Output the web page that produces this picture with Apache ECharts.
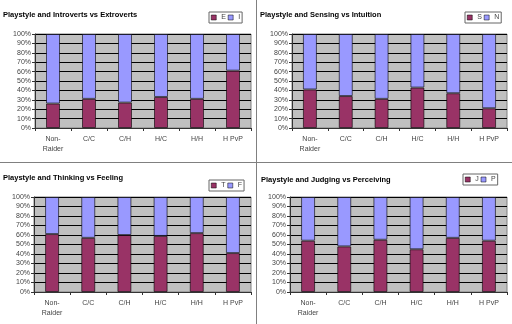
<!DOCTYPE html>
<html>
<head>
<meta charset="utf-8">
<script src="https://cdn.jsdelivr.net/npm/echarts@6/dist/echarts.min.js"></script>
<style>
html,body{margin:0;padding:0;background:#fff;}
#c{width:512px;height:324px;}
</style>
</head>
<body>
<div id="c"></div>
<script>
var categories = ['Non-\nRaider', 'C/C', 'C/H', 'H/C', 'H/H', 'H PvP'];
var yTicks = [0, 10, 20, 30, 40, 50, 60, 70, 80, 90, 100];

var titles = [
  'Playstyle and Introverts vs Extroverts',
  'Playstyle and Sensing vs Intuition',
  'Playstyle and Thinking vs Feeling',
  'Playstyle and Judging vs Perceiving'
];

var eValues = [26, 31, 27, 33, 31, 61];
var iValues = [74, 69, 73, 67, 69, 39];
var sValues = [41, 34, 31, 43, 37, 21];
var nValues = [59, 66, 69, 57, 63, 79];
var tValues = [61, 57, 60, 59, 62, 41];
var fValues = [39, 43, 40, 41, 38, 59];
var jValues = [54, 48, 55, 45, 57, 54];
var pValues = [46, 52, 45, 55, 43, 46];

var pairs = [
  [['E', eValues], ['I', iValues]],
  [['S', sValues], ['N', nValues]],
  [['T', tValues], ['F', fValues]],
  [['J', jValues], ['P', pValues]]
];

var grids = [
  {left: 35, top: 34, width: 216, height: 94},
  {left: 292, top: 34, width: 215, height: 94},
  {left: 34, top: 197, width: 217, height: 95},
  {left: 290, top: 197, width: 217, height: 95}
];
var titlePos = [[3, 11], [260, 11], [3, 174], [261, 176]];
var legendPos = [[209, 12], [465, 12], [209, 180], [463, 174]];

var FONT = '"Liberation Sans", Arial, sans-serif';
var colors = ['#993366', '#9999FF'];

var option = {
  animation: false,
  backgroundColor: '#fff',
  textStyle: {fontFamily: FONT},
  title: [],
  legend: [],
  grid: [],
  xAxis: [],
  yAxis: [],
  series: [],
  graphic: [
    {type: 'line', shape: {x1: 256.5, y1: 0, x2: 256.5, y2: 324}, style: {stroke: '#808080', lineWidth: 1}, z: 100},
    {type: 'line', shape: {x1: 0, y1: 162.5, x2: 512, y2: 162.5}, style: {stroke: '#808080', lineWidth: 1}, z: 100}
  ]
};

for (var k = 0; k < 4; k++) {
  option.title.push({
    text: titles[k], left: titlePos[k][0], top: titlePos[k][1], padding: 0,
    textStyle: {fontSize: 7.5, fontWeight: 'bold', color: '#000', fontFamily: FONT}
  });
  option.legend.push({
    data: [pairs[k][0][0], pairs[k][1][0]],
    left: legendPos[k][0], top: legendPos[k][1],
    orient: 'horizontal',
    itemWidth: 5, itemHeight: 5, itemGap: 2,
    padding: [2, 2, 2, 2],
    borderColor: '#666', borderWidth: 1,
    icon: 'rect',
    itemStyle: {borderWidth: 0.5, borderColor: '#000'},
    textStyle: {fontSize: 7, color: '#444', fontFamily: FONT},
    selectedMode: false
  });
  option.grid.push({
    left: grids[k].left, top: grids[k].top, width: grids[k].width, height: grids[k].height,
    show: true, backgroundColor: '#C0C0C0', borderColor: '#808080', borderWidth: 1,
    containLabel: false
  });
  option.xAxis.push({
    type: 'category', gridIndex: k, data: categories,
    boundaryGap: true,
    axisLine: {show: true, lineStyle: {color: '#333', width: 1}},
    axisTick: {show: true, interval: 0, alignWithLabel: false, length: 3, inside: false, lineStyle: {color: '#333'}},
    axisLabel: {interval: 0, fontSize: 7, color: '#444', margin: 6, lineHeight: 10, fontFamily: FONT},
    splitLine: {show: false}
  });
  option.yAxis.push({
    type: 'value', gridIndex: k, min: 0, max: 100, interval: 10,
    axisLine: {show: true, lineStyle: {color: '#333', width: 1}},
    axisTick: {show: true, length: 3, inside: false, lineStyle: {color: '#333'}},
    axisLabel: {fontSize: 7, color: '#444', margin: 4, formatter: '{value}%', fontFamily: FONT},
    splitLine: {show: true, lineStyle: {color: '#000', width: 1}}
  });
  for (var s = 0; s < 2; s++) {
    option.series.push({
      type: 'bar', name: pairs[k][s][0], data: pairs[k][s][1],
      xAxisIndex: k, yAxisIndex: k, stack: 'st' + k,
      barWidth: 14,
      itemStyle: {color: colors[s], borderColor: 'rgba(0,0,0,0.6)', borderWidth: 1},
      emphasis: {disabled: true}
    });
  }
}

var chart = echarts.init(document.getElementById('c'), null, {renderer: 'canvas'});
chart.setOption(option);
</script>
</body>
</html>
